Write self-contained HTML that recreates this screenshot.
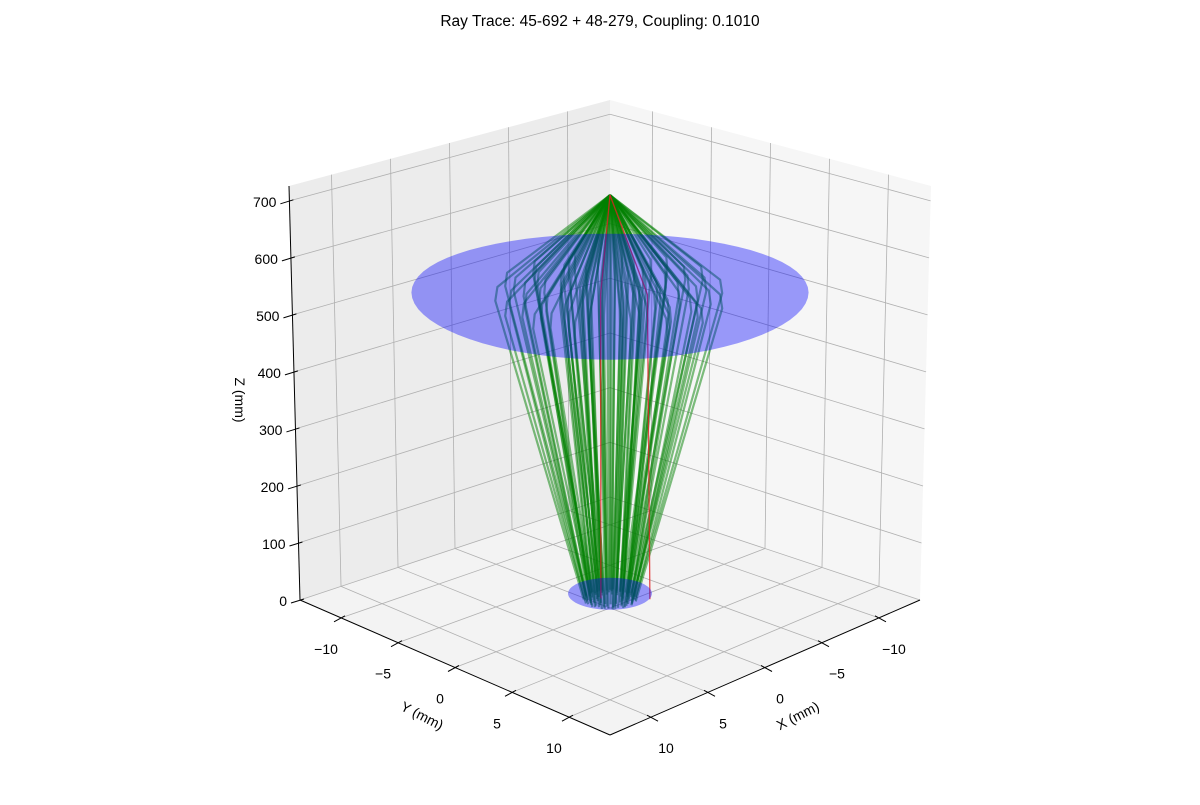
<!DOCTYPE html>
<html><head><meta charset="utf-8">
<style>
html,body{margin:0;padding:0;background:#fff;}
svg text{font-family:"Liberation Sans","DejaVu Sans",sans-serif;}
</style></head>
<body>
<svg id="chart" width="1200" height="800" xmlns="http://www.w3.org/2000/svg">
<text x="600" y="26" text-anchor="middle" font-size="15.5" fill="#000">Ray Trace: 45-692 + 48-279, Coupling: 0.1010</text>
<g id="panes"></g><g id="grid"></g><g id="axes"></g><g id="rays"></g><g id="optics"></g><g id="labels"></g>
</svg>
<script>
// ---- data ----
const xTicks = [-10, -5, 0, 5, 10];
const yTicks = [-10, -5, 0, 5, 10];
const zTicks = [0, 100, 200, 300, 400, 500, 600, 700];
const axisLim = 13.6;
const zMax = 726;
const sourcePoint = [0, 0, 718];
const lensZ = 545;
const lensRadius = 12;
const fiberZ = 25;
const fiberRadius = 2.6;
const rayRingRadii = [1.8, 3.0, 4.2, 5.2, 6.0, 6.8];
const rayRingAngles = [0, 24, 48, 72, 96, 120, 144, 168, 192, 216, 240, 264, 288, 312, 336];
const rayRingOffsets = [0, 12, 5, 17, 9, 3];
const rayEndScale = [0.45, 0.38, 0.32, 0.28, 0.26, 0.24];
const redLens = [[0.4, -0.4], [-1.6, 1.6]];
const redEnd = [[0.3, -0.5], [-1.75, 1.75]];

// ---- projection (trilinear through box corners) ----
const C = {
  f: {b:[610,497], l:[300,600], r:[920,600], fr:[610,735]},
  t: {b:[610,100], l:[289,186], r:[931,186], fr:[610,290]}
};
function face(F,u,v){
  const a0=F.b[0]*(1-u)+F.l[0]*u, a1=F.b[1]*(1-u)+F.l[1]*u;
  const c0=F.r[0]*(1-u)+F.fr[0]*u, c1=F.r[1]*(1-u)+F.fr[1]*u;
  return [a0*(1-v)+c0*v, a1*(1-v)+c1*v];
}
function P(x,y,z){
  const u=(x+axisLim)/(2*axisLim), v=(y+axisLim)/(2*axisLim), w=z/zMax;
  const a=face(C.f,u,v), b=face(C.t,u,v);
  return [a[0]*(1-w)+b[0]*w, a[1]*(1-w)+b[1]*w];
}
const NS='http://www.w3.org/2000/svg';
function mk(tag,attrs,parent){const e=document.createElementNS(NS,tag);for(const k in attrs)e.setAttribute(k,attrs[k]);parent.appendChild(e);return e;}
function pts(arr){return arr.map(p=>p[0].toFixed(1)+','+p[1].toFixed(1)).join(' ');}
const m=axisLim;
const gP=document.getElementById('panes'),gG=document.getElementById('grid'),gA=document.getElementById('axes'),
      gR=document.getElementById('rays'),gO=document.getElementById('optics'),gL=document.getElementById('labels');

let e;
e=mk('polygon',{points:pts([P(m,-m,0),P(-m,-m,0),P(-m,-m,zMax),P(m,-m,zMax)]),fill:'#ececec'},gP);


e=mk('polygon',{points:pts([P(-m,-m,0),P(-m,m,0),P(-m,m,zMax),P(-m,-m,zMax)]),fill:'#f6f6f6'},gP);


e=mk('polygon',{points:pts([P(m,-m,0),P(-m,-m,0),P(-m,m,0),P(m,m,0)]),fill:'#f3f3f3'},gP);



function gline(a,b,name){const l=mk('line',{x1:a[0],y1:a[1],x2:b[0],y2:b[1],stroke:'#b0b0b0','stroke-width':0.8},gG);

}
zTicks.forEach(z=>{gline(P(m,-m,z),P(-m,-m,z),'z-gridline');gline(P(-m,-m,z),P(-m,m,z),'z-gridline');});
xTicks.forEach(x=>{gline(P(x,-m,0),P(x,-m,zMax),'x-gridline');gline(P(x,-m,0),P(x,m,0),'x-gridline');});
yTicks.forEach(y=>{gline(P(-m,y,0),P(-m,y,zMax),'y-gridline');gline(P(-m,y,0),P(m,y,0),'y-gridline');});

function aline(a,b,name){const l=mk('line',{x1:a[0],y1:a[1],x2:b[0],y2:b[1],stroke:'#000','stroke-width':1},gA);

}
aline(P(m,-m,0),P(m,-m,zMax),'z-axis-line');
aline(P(m,-m,0),P(m,m,0),'y-axis-line');
aline(P(-m,m,0),P(m,m,0),'x-axis-line');
function txt(x,y,s,anchor,name,extra){const t=mk('text',Object.assign({x:x,y:y,'text-anchor':anchor,'font-size':14,fill:'#000'},extra||{}),gL);t.textContent=s;

return t;}
function lab(v){return v<0?'\u2212'+Math.abs(v):String(v);}
zTicks.forEach(z=>{const p=P(m,-m,z);aline([p[0]-9,p[1]+3],[p[0]+4,p[1]-1],'z-tick');txt(p[0]-13,p[1]+6,lab(z),'end','z-tick-label');});
yTicks.forEach(y=>{const p=P(m,y,0);aline([p[0]-7,p[1]+4],[p[0]+4,p[1]-2],'y-tick');txt(p[0]-15,p[1]+36,lab(y),'middle','y-tick-label');});
xTicks.forEach(x=>{const p=P(x,m,0);aline([p[0]+7,p[1]+4],[p[0]-4,p[1]-2],'x-tick');txt(p[0]+15,p[1]+36,lab(x),'middle','x-tick-label');});
txt(0,0,'Y (mm)','middle','y-axis-title',{transform:'translate(420,720) rotate(27)'});
txt(0,0,'X (mm)','middle','x-axis-title',{transform:'translate(800,720) rotate(-27)'});
txt(0,0,'Z (mm)','middle','z-axis-title',{transform:'translate(235,400) rotate(90)'});

const src=P(sourcePoint[0],sourcePoint[1],sourcePoint[2]);
rayRingRadii.forEach((r,i)=>{
  rayRingAngles.forEach(a=>{
    const th=(a+rayRingOffsets[i])*Math.PI/180;
    const lx=r*Math.cos(th), ly=r*Math.sin(th);
    const l1=P(lx,ly,lensZ+12), l2=P(lx*1.02,ly*1.02,lensZ-12);
    const s=rayEndScale[i];
    const en=P(lx*s,ly*s,fiberZ-10);
    const pl=mk('polyline',{points:pts([src,l1,l2,en]),fill:'none',stroke:'#008000','stroke-opacity':0.5,'stroke-width':2.2,'stroke-linejoin':'round'},gR);
    
    
  });
});
redLens.forEach((q,i)=>{
  const pl=mk('polyline',{points:pts([src,P(q[0],q[1],lensZ),P(redEnd[i][0],redEnd[i][1],fiberZ-10)]),fill:'none',stroke:'#e02020','stroke-opacity':0.8,'stroke-width':1.3},gR);
  
  
});

function disk(cz,r,name){const arr=[];for(let k=0;k<72;k++){const t=k*5*Math.PI/180;arr.push(P(r*Math.cos(t),r*Math.sin(t),cz));}
const pg=mk('polygon',{points:pts(arr),fill:'#0000ff','fill-opacity':0.38},gO);

}
disk(lensZ,lensRadius,'lens-disk');
disk(fiberZ,fiberRadius,'fiber-disk');
</script>
</body></html>
